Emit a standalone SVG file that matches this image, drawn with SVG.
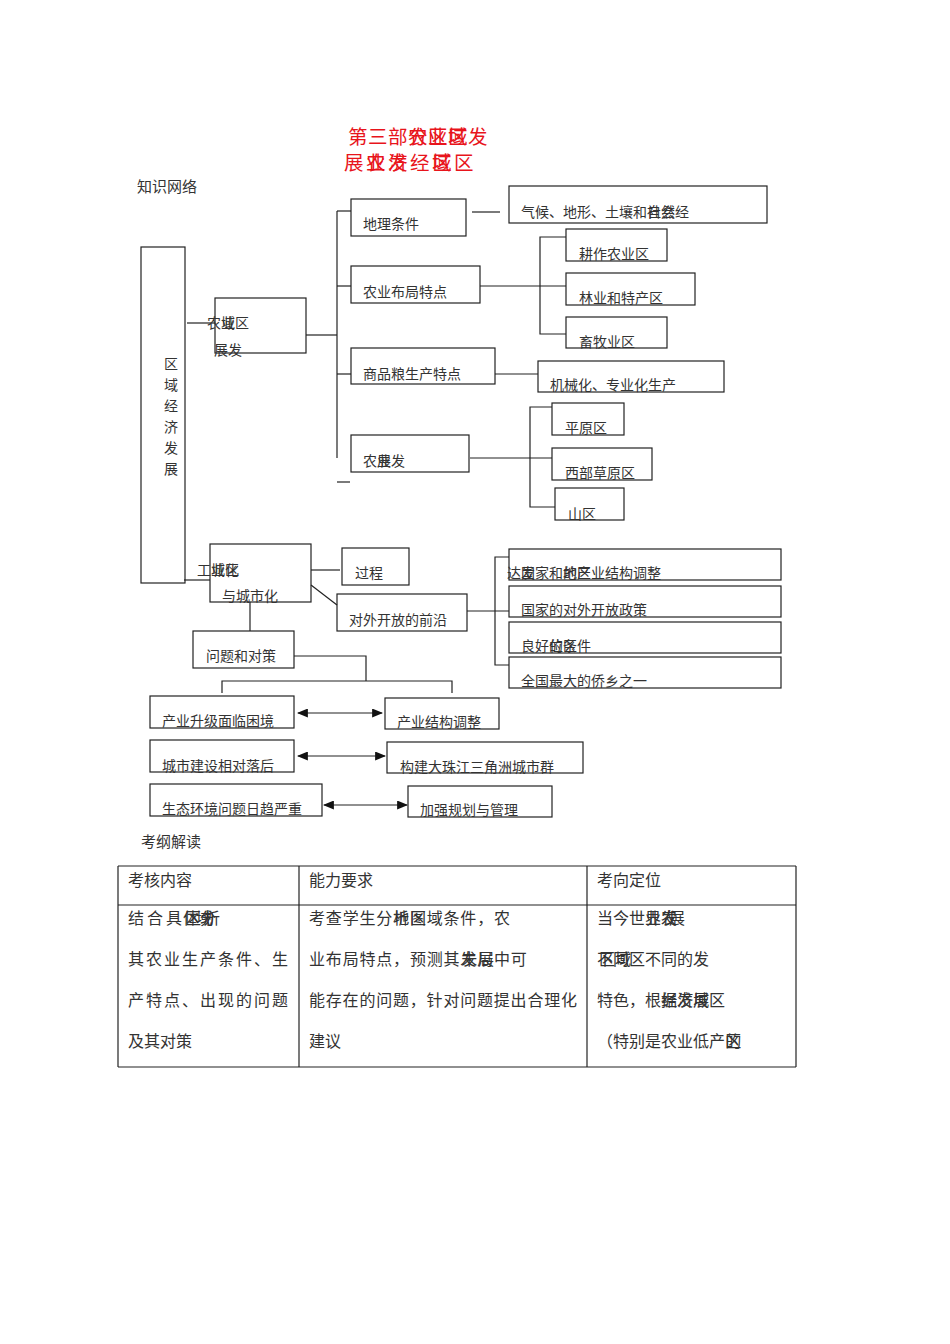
<svg xmlns="http://www.w3.org/2000/svg" width="950" height="1344" viewBox="0 0 950 1344">
<style>
text{font-family:"Noto Sans CJK SC","Noto Sans",sans-serif;fill:#333;font-size:14px}
.b rect{fill:none;stroke:#222;stroke-width:1.2}
.c line,.c polyline{fill:none;stroke:#222;stroke-width:1.2}
.t{fill:#e8141b;font-size:19.5px}
.h{font-size:15px}
.tb{font-size:16px}
</style>
<defs>
<marker id="ah" viewBox="0 0 10 10" refX="9" refY="5" markerWidth="11" markerHeight="9" orient="auto-start-reverse" markerUnits="userSpaceOnUse" preserveAspectRatio="none"><path d="M0,0 L10,5 L0,10 z" fill="#111"/></marker>
</defs>
<rect width="950" height="1344" fill="#fff"/>
<g id="title">
<text class="t"><tspan x="348" y="144" letter-spacing="0.5" dx="0 0 0 0 0 0 -60">第三部分区域农业区发</tspan><tspan x="344" y="170" letter-spacing="2.5" dx="0 0 0 0 0 0 -110 0 22">展农发经域区业济区</tspan></text>
</g>
<text class="h" x="137" y="192">知识网络</text>
<g class="c" id="connectors">
<line x1="187" y1="323" x2="215" y2="323"/>
<line x1="306" y1="335" x2="337" y2="335"/>
<line x1="337" y1="211" x2="337" y2="458"/>
<line x1="337" y1="211" x2="351" y2="211"/>
<line x1="337" y1="286" x2="351" y2="286"/>
<line x1="337" y1="374" x2="351" y2="374"/>
<line x1="337" y1="482" x2="350" y2="482"/>
<line x1="472" y1="212" x2="500" y2="212"/>
<line x1="480" y1="286" x2="566" y2="286"/>
<polyline points="566,237 540,237 540,334 566,334"/>
<line x1="495" y1="374" x2="538" y2="374"/>
<line x1="470" y1="458" x2="552" y2="458"/>
<polyline points="552,407 530,407 530,507 555,507"/>
<line x1="184" y1="580" x2="210" y2="580"/>
<line x1="311" y1="570" x2="340" y2="570"/>
<line x1="311" y1="585" x2="337" y2="605"/>
<line x1="467" y1="611" x2="509" y2="611"/>
<polyline points="509,557 495,557 495,665 509,665"/>
<line x1="250" y1="602" x2="250" y2="631"/>
<polyline points="294,656 366,656 366,681"/>
<polyline points="222,693 222,681 452,681 452,693"/>
<line x1="298" y1="713" x2="382" y2="713" marker-start="url(#ah)" marker-end="url(#ah)"/>
<line x1="298" y1="756" x2="385" y2="756" marker-start="url(#ah)" marker-end="url(#ah)"/>
<line x1="324" y1="805" x2="407" y2="805" marker-start="url(#ah)" marker-end="url(#ah)"/>
</g>
<g id="n-root" class="b"><rect x="141" y="247" width="44" height="336"/>
<text x="164" y="369">区</text><text x="164" y="390">域</text><text x="164" y="411">经</text><text x="164" y="432">济</text><text x="164" y="453">发</text><text x="164" y="474">展</text></g>
<g id="n-agri" class="b"><rect x="215" y="298" width="91" height="55"/><text x="207" y="328" dx="0 0 0 -28">农业区域</text><text x="214" y="355">展发</text></g>
<g id="n-geo" class="b"><rect x="351" y="199" width="115" height="37"/><text x="363" y="229">地理条件</text></g>
<g id="n-layout" class="b"><rect x="351" y="266" width="129" height="37"/><text x="363" y="297">农业布局特点</text></g>
<g id="n-grain" class="b"><rect x="351" y="348" width="144" height="36"/><text x="363" y="379">商品粮生产特点</text></g>
<g id="n-dev" class="b"><rect x="351" y="435" width="118" height="37"/><text x="363" y="466" dx="0 0 0 -28">农业发展</text></g>
<g id="n-cond" class="b"><rect x="509" y="186" width="258" height="37"/><text x="521" y="217" dx="0 0 0 0 0 0 0 0 0 0 0 0 -42">气候、地形、土壤和社会经自然</text></g>
<g id="n-crop" class="b"><rect x="566" y="229" width="101" height="32"/><text x="579" y="259">耕作农业区</text></g>
<g id="n-forest" class="b"><rect x="566" y="273" width="129" height="32"/><text x="579" y="303">林业和特产区</text></g>
<g id="n-animal" class="b"><rect x="566" y="317" width="101" height="31"/><text x="579" y="347">畜牧业区</text></g>
<g id="n-mech" class="b"><rect x="538" y="361" width="186" height="31"/><text x="550" y="390">机械化、专业化生产</text></g>
<g id="n-plain" class="b"><rect x="552" y="403" width="72" height="32"/><text x="565" y="433">平原区</text></g>
<g id="n-grass" class="b"><rect x="552" y="448" width="100" height="32"/><text x="565" y="478">西部草原区</text></g>
<g id="n-mount" class="b"><rect x="555" y="488" width="69" height="32"/><text x="568" y="519">山区</text></g>
<g id="n-ind" class="b"><rect x="210" y="544" width="101" height="58"/><text x="197" y="575" dx="0 0 0 -28">工业化城区</text><text x="222" y="601">与城市化</text></g>
<g id="n-proc" class="b"><rect x="342" y="548" width="67" height="37"/><text x="355" y="578">过程</text></g>
<g id="n-open" class="b"><rect x="337" y="594" width="130" height="37"/><text x="349" y="625">对外开放的前沿</text></g>
<g id="n-r1" class="b"><rect x="509" y="549" width="272" height="31"/><text x="507" y="578" dx="0 0 0 0 0 0 0 0 0 0 0 -140 28">达国家和地区业结构调整发的产</text></g>
<g id="n-r2" class="b"><rect x="509" y="586" width="272" height="31"/><text x="521" y="615">国家的对外开放政策</text></g>
<g id="n-r3" class="b"><rect x="509" y="622" width="272" height="31"/><text x="521" y="651" dx="0 0 0 0 0 -42">良好的区件位条</text></g>
<g id="n-r4" class="b"><rect x="509" y="657" width="272" height="31"/><text x="521" y="686">全国最大的侨乡之一</text></g>
<g id="n-prob" class="b"><rect x="193" y="631" width="101" height="37"/><text x="206" y="661">问题和对策</text></g>
<g id="n-p1" class="b"><rect x="150" y="696" width="144" height="32"/><text x="162" y="726">产业升级面临困境</text></g>
<g id="n-s1" class="b"><rect x="385" y="698" width="114" height="31"/><text x="397" y="727">产业结构调整</text></g>
<g id="n-p2" class="b"><rect x="150" y="740" width="144" height="32"/><text x="162" y="771">城市建设相对落后</text></g>
<g id="n-s2" class="b"><rect x="387" y="742" width="196" height="31"/><text x="400" y="772">构建大珠江三角洲城市群</text></g>
<g id="n-p3" class="b"><rect x="150" y="784" width="172" height="32"/><text x="162" y="814">生态环境问题日趋严重</text></g>
<g id="n-s3" class="b"><rect x="408" y="786" width="144" height="31"/><text x="420" y="815">加强规划与管理</text></g>
<text class="h" x="141" y="847">考纲解读</text>
<g id="table">
<g class="c"><line x1="118" y1="866" x2="796" y2="866"/><line x1="118" y1="905" x2="796" y2="905"/><line x1="118" y1="1067" x2="796" y2="1067"/><line x1="118" y1="866" x2="118" y2="1067"/><line x1="299" y1="866" x2="299" y2="1067"/><line x1="587" y1="866" x2="587" y2="1067"/><line x1="796" y1="866" x2="796" y2="1067"/></g>
<text class="tb" x="128" y="886">考核内容</text><text class="tb" x="309" y="886">能力要求</text><text class="tb" x="597" y="886">考向定位</text>
<text class="tb" x="128 147 166 183 185 196 200 204" y="924">结合具体区域分析</text>
<text class="tb" x="128" y="965" letter-spacing="2">其农业生产条件、生</text>
<text class="tb" x="128" y="1006" letter-spacing="2">产特点、出现的问题</text>
<text class="tb" x="128" y="1047">及其对策</text>
<text class="tb" x="309" y="924" letter-spacing="0.8" dx="0 0 0 0 0 0 0 0 0 0 0 0 -117.6">考查学生分析区域条件，农地图</text>
<text class="tb" x="309" y="965" letter-spacing="0.8" dx="0 0 0 0 0 0 0 0 0 0 0 0 0 -66.4">业布局特点，预测其发局中可未展</text>
<text class="tb" x="309" y="1006" letter-spacing="0.8">能存在的问题，针对问题提出合理化</text>
<text class="tb" x="309" y="1047">建议</text>
<text class="tb" x="597" y="924" dx="0 0 0 0 0 -32 0 -8">当今世界农业发展</text>
<text class="tb" x="597" y="965" dx="0 0 0 0 0 0 0 -110">不同区不同的发区域</text>
<text class="tb" x="597" y="1006" dx="0 0 0 0 0 0 0 0 -64 0 0">特色，根据发展区经济域</text>
<text class="tb" x="597" y="1047" dx="0 0 0 0 0 0 0 0 0 -16">（特别是农业低产区的</text>
</g>
</svg>
